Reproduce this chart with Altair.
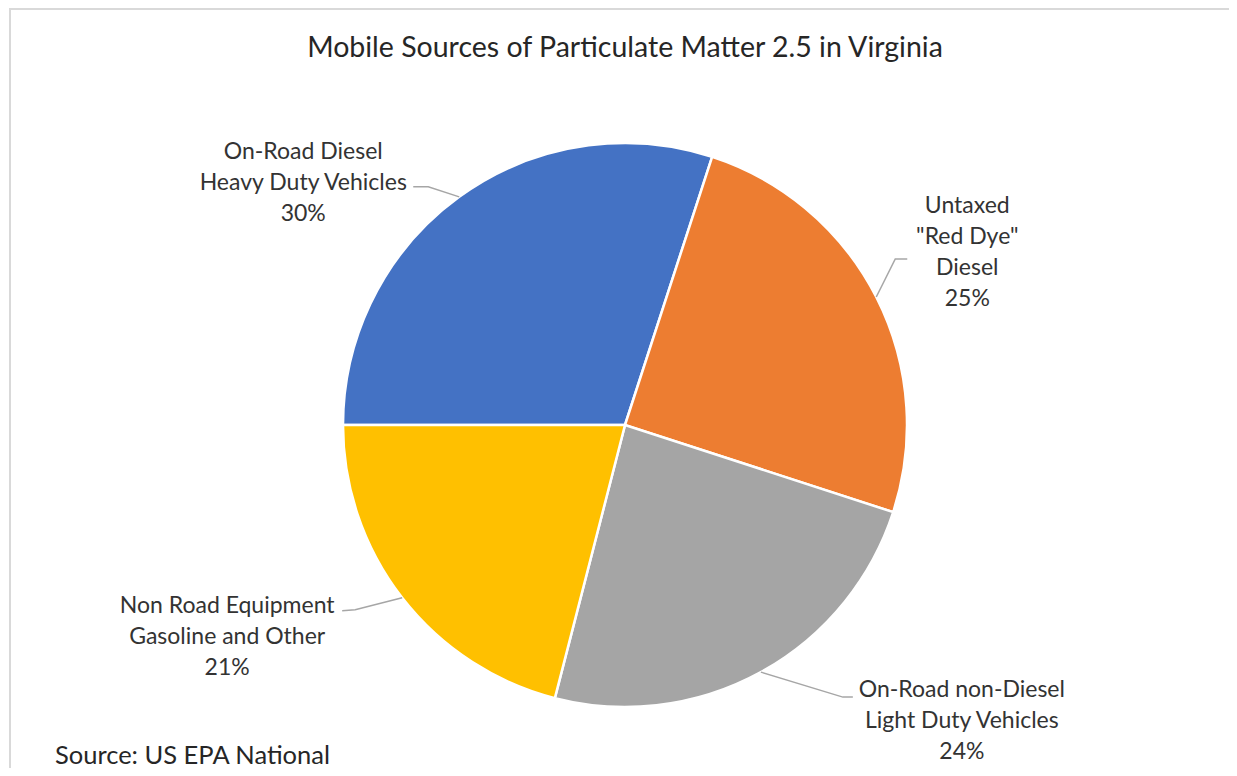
import math
import altair as alt
import pandas as pd

# ---- data ----
sources = [
    "On-Road Diesel Heavy Duty Vehicles",
    'Untaxed "Red Dye" Diesel',
    "On-Road non-Diesel Light Duty Vehicles",
    "Non Road Equipment Gasoline and Other",
]
label_lines = [
    ["On-Road Diesel", "Heavy Duty Vehicles"],
    ["Untaxed", '"Red Dye"', "Diesel"],
    ["On-Road non-Diesel", "Light Duty Vehicles"],
    ["Non Road Equipment", "Gasoline and Other"],
]
shares = [30, 25, 24, 21]
colors = ["#4472C4", "#ED7D31", "#A5A5A5", "#FFC000"]
title_text = "Mobile Sources of Particulate Matter 2.5 in Virginia"
source_text = "Source: US EPA National"

# ---- layout ----
W, H = 1221, 760
CX, CY, R = 617, 417, 282
START = 1.5 * math.pi  # first slice starts at 9 o'clock
FONT = "Lato"
TXT = "#333333"
# offset of each label's first line from the slice's arc mid-point
label_offsets = [(-156, -45), (91, -91), (201, 18), (-175, 8)]
leader_bends = [((-31, -10), (-46, -10)), ((19, -38), (31, -38)),
                ((82, 25), (92, 25)), ((-47, 12), (-60, 13))]

df = pd.DataFrame({
    "idx": list(range(len(sources))),
    "source": sources,
    "share": shares,
    "label": ["|".join(l + [f"{s}%"]) for l, s in zip(label_lines, shares)],
})

theta_scale = alt.Scale(range=[START, START + 2 * math.pi])
color_scale = alt.Scale(domain=sources, range=colors)

pie = alt.Chart(df).mark_arc(outerRadius=R, stroke="white", strokeWidth=2.5).encode(
    theta=alt.Theta("share:Q", stack=True, scale=theta_scale),
    color=alt.Color("source:N", scale=color_scale, legend=None),
    order=alt.Order("idx:Q"),
    x=alt.value(CX),
    y=alt.value(CY),
)

# leader lines: from the arc mid-point of each slice to its label
total = sum(shares)
rows = []
cum = 0
for i, s in enumerate(shares):
    mid = START + (cum + s / 2) / total * 2 * math.pi
    cum += s
    ax = CX + R * math.sin(mid)
    ay = CY - R * math.cos(mid)
    pts = [(0, 0)] + list(leader_bends[i])
    for k, (ox, oy) in enumerate(pts):
        rows.append({"source": sources[i], "step": k, "x": ax + ox, "y": ay + oy})
lead_df = pd.DataFrame(rows)

leaders = alt.Chart(lead_df).mark_line(color="#A6A6A6", strokeWidth=1.5).encode(
    x=alt.X("x:Q", scale=None, axis=None),
    y=alt.Y("y:Q", scale=None, axis=None),
    detail="source:N",
    order="step:Q",
)

texts = []
for i, (dx, dy) in enumerate(label_offsets):
    t = (
        alt.Chart(df)
        .transform_stack(stack="share", as_=["s0", "s1"], groupby=[],
                         sort=[alt.SortField("idx", order="ascending")])
        .transform_calculate(mid="(datum.s0 + datum.s1) / 2")
        .transform_filter(f"datum.idx == {i}")
        .mark_text(dx=dx, dy=dy, lineBreak="|", fontSize=23, font=FONT,
                   color=TXT, align="center", baseline="middle", lineHeight=31)
        .encode(
            theta=alt.Theta("mid:Q", scale=theta_scale, stack=False),
            radius=alt.value(R),
            text="label:N",
            x=alt.value(CX),
            y=alt.value(CY),
        )
    )
    texts.append(t)

title = alt.Chart(pd.DataFrame({"t": [title_text]})).mark_text(
    fontSize=28.5, font=FONT, color="#262626", align="center", baseline="alphabetic"
).encode(text="t:N", x=alt.value(617), y=alt.value(49))

source = alt.Chart(pd.DataFrame({"t": [source_text]})).mark_text(
    fontSize=25.5, font=FONT, color="#262626", align="left", baseline="alphabetic"
).encode(text="t:N", x=alt.value(47), y=alt.value(756))

border = alt.Chart(pd.DataFrame({"a": [0]})).mark_rect(
    filled=False, stroke="#D9D9D9", strokeWidth=2
).encode(x=alt.value(2), y=alt.value(1), x2=alt.value(1500), y2=alt.value(1200))

chart = alt.layer(border, pie, leaders, *texts, title, source).properties(
    width=W, height=H, autosize=alt.AutoSizeParams(type="none"), padding=0,
    background="white",
).configure_view(strokeWidth=0)

chart.save("out.html", embed_options={"renderer": "svg", "actions": False})
